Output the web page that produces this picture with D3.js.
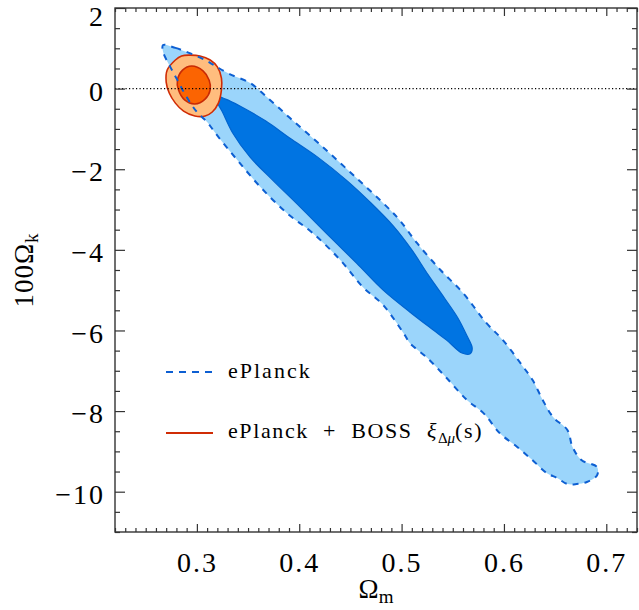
<!DOCTYPE html>
<html>
<head>
<meta charset="utf-8">
<script src="https://cdn.jsdelivr.net/npm/d3@7"></script>
<style>
  body { margin: 0; background: #fff; }
  svg { display: block; }
  text { font-family: "Liberation Serif", "DejaVu Serif", serif; fill: #000; }
</style>
</head>
<body>
<svg id="chart" width="639" height="610"></svg>
<script>
// Axis ranges and ticks
const xDomain = [0.22, 0.73];
const yDomain = [-11, 2];
const xMajorTicks = [0.3, 0.4, 0.5, 0.6, 0.7];
const yMajorTicks = [2, 0, -2, -4, -6, -8, -10];

// Confidence regions, points are [Omega_m, 100 Omega_k]
// ePlanck alone, 95% region
const ePlanckOuter = [
  [0.267, 1.08], [0.279, 1.01], [0.293, 0.88], [0.308, 0.71], [0.318, 0.56],
  [0.332, 0.36], [0.352, 0.14], [0.367, -0.18], [0.391, -0.73], [0.423, -1.45],
  [0.456, -2.22], [0.486, -2.94], [0.498, -3.26], [0.515, -3.83], [0.538, -4.50],
  [0.560, -5.07], [0.583, -5.82], [0.599, -6.24], [0.619, -6.91], [0.628, -7.23],
  [0.638, -7.73], [0.648, -8.15], [0.662, -8.47], [0.667, -8.89], [0.676, -9.22],
  [0.691, -9.39], [0.691, -9.59], [0.681, -9.76], [0.671, -9.81], [0.662, -9.81],
  [0.652, -9.66], [0.642, -9.54], [0.628, -9.22], [0.613, -8.89], [0.596, -8.55],
  [0.580, -8.05], [0.564, -7.73], [0.544, -7.18], [0.525, -6.68], [0.508, -6.31],
  [0.503, -6.11], [0.482, -5.37], [0.462, -4.92], [0.440, -4.25], [0.413, -3.58],
  [0.388, -3.09], [0.362, -2.44], [0.342, -1.85], [0.329, -1.45], [0.318, -1.10],
  [0.310, -0.83], [0.300, -0.58], [0.290, -0.21], [0.281, 0.21], [0.274, 0.54],
  [0.267, 0.91]
];
// ePlanck alone, 68% region
const ePlanckInner = [
  [0.321, -0.21], [0.328, -0.26], [0.342, -0.43], [0.367, -0.80], [0.391, -1.23],
  [0.418, -1.70], [0.446, -2.27], [0.469, -2.81], [0.492, -3.41], [0.510, -4.00],
  [0.526, -4.62], [0.542, -5.20], [0.555, -5.69], [0.564, -6.14], [0.569, -6.44],
  [0.567, -6.58], [0.559, -6.56], [0.544, -6.24], [0.531, -5.99], [0.508, -5.54],
  [0.482, -5.00], [0.456, -4.33], [0.430, -3.68], [0.401, -2.94], [0.374, -2.27],
  [0.352, -1.70], [0.335, -1.10], [0.325, -0.58], [0.320, -0.33]
];
// ePlanck + BOSS, 95% region
const combinedOuter = [
  [0.293, 0.83], [0.303, 0.81], [0.313, 0.71], [0.320, 0.54], [0.324, 0.26],
  [0.324, -0.03], [0.321, -0.36], [0.315, -0.58], [0.308, -0.68], [0.298, -0.68],
  [0.287, -0.56], [0.279, -0.36], [0.273, -0.11], [0.270, 0.16], [0.271, 0.46],
  [0.279, 0.71], [0.285, 0.81]
];
// ePlanck + BOSS, 68% region
const combinedInner = [
  [0.295, 0.56], [0.306, 0.44], [0.312, 0.21], [0.313, -0.03], [0.308, -0.26],
  [0.298, -0.38], [0.288, -0.28], [0.282, -0.03], [0.281, 0.21], [0.286, 0.46]
];

const svg = d3.select("#chart");
const plot = { left: 115, right: 637, top: 8, bottom: 532 };

const x = d3.scaleLinear().domain(xDomain).range([plot.left, plot.right]);
const y = d3.scaleLinear().domain(yDomain).range([plot.bottom, plot.top]);

const region = d3.line()
  .x(d => x(d[0]))
  .y(d => y(d[1]))
  .curve(d3.curveCatmullRomClosed.alpha(0.5));

svg.append("clipPath").attr("id", "plot-clip")
  .append("rect")
  .attr("x", plot.left).attr("y", plot.top)
  .attr("width", plot.right - plot.left).attr("height", plot.bottom - plot.top);

const g = svg.append("g").attr("clip-path", "url(#plot-clip)");

// ePlanck filled regions
g.append("path").attr("d", region(ePlanckOuter))
  .attr("fill", "#9bd5fb").attr("stroke", "none");
g.append("path").attr("d", region(ePlanckInner))
  .attr("fill", "#0074e2").attr("stroke", "#0064cf").attr("stroke-width", 1.2);

// ePlanck + BOSS filled regions
g.append("path").attr("d", region(combinedOuter))
  .attr("fill", "#ffbd7e").attr("stroke", "#d02c05").attr("stroke-width", 1.6);
g.append("path").attr("d", region(combinedInner))
  .attr("fill", "#fb6402").attr("stroke", "#c82a05").attr("stroke-width", 1.6);

// dashed outline of the ePlanck 95% region
g.append("path").attr("d", region(ePlanckOuter))
  .attr("fill", "none").attr("stroke", "#0d5fd2")
  .attr("stroke-width", 2).attr("stroke-dasharray", "6,6");

// flat-universe reference line
g.append("line")
  .attr("x1", plot.left).attr("x2", plot.right)
  .attr("y1", y(0)).attr("y2", y(0))
  .attr("stroke", "#000").attr("stroke-width", 1.2)
  .attr("stroke-dasharray", "1.2,2.3");

// axes
const xMinorTicks = d3.range(22, 74).map(v => v / 100).filter(v => !xMajorTicks.some(t => Math.abs(t - v) < 1e-9));
const yMinorTicks = d3.range(-22, 5).map(v => v / 2).filter(v => !yMajorTicks.includes(v));

function styleAxis(sel) {
  sel.select(".domain").remove();
  sel.selectAll(".tick line").attr("stroke", "#333").attr("stroke-width", 1.2);
}

function styleLabels(sel) {
  sel.selectAll("text")
    .attr("font-size", 28)
    .attr("font-family", "Liberation Serif")
    .attr("letter-spacing", 2);
}

svg.append("g").attr("transform", `translate(0,${plot.bottom})`)
  .call(d3.axisBottom(x).tickValues(xMajorTicks).tickSize(-8).tickPadding(20)
    .tickFormat(d3.format(".1f")))
  .call(styleAxis)
  .call(styleLabels);
svg.append("g").attr("transform", `translate(0,${plot.bottom})`)
  .call(d3.axisBottom(x).tickValues(xMinorTicks).tickSize(-4).tickFormat(""))
  .call(styleAxis);

svg.append("g").attr("transform", `translate(0,${plot.top})`)
  .call(d3.axisTop(x).tickValues(xMajorTicks).tickSize(-8).tickFormat(""))
  .call(styleAxis);
svg.append("g").attr("transform", `translate(0,${plot.top})`)
  .call(d3.axisTop(x).tickValues(xMinorTicks).tickSize(-4).tickFormat(""))
  .call(styleAxis);

svg.append("g").attr("transform", `translate(${plot.left},0)`)
  .call(d3.axisLeft(y).tickValues(yMajorTicks).tickSize(-10).tickPadding(10)
    .tickFormat(d3.format("d")))
  .call(styleAxis)
  .call(styleLabels)
  .call(s => s.selectAll("text")
    .attr("dy", "0.42em")
    .attr("y", d => Math.max(0, 14 - y(d))));
svg.append("g").attr("transform", `translate(${plot.left},0)`)
  .call(d3.axisLeft(y).tickValues(yMinorTicks).tickSize(-5).tickFormat(""))
  .call(styleAxis);

svg.append("g").attr("transform", `translate(${plot.right},0)`)
  .call(d3.axisRight(y).tickValues(yMajorTicks).tickSize(-10).tickFormat(""))
  .call(styleAxis);
svg.append("g").attr("transform", `translate(${plot.right},0)`)
  .call(d3.axisRight(y).tickValues(yMinorTicks).tickSize(-5).tickFormat(""))
  .call(styleAxis);

// frame
svg.append("rect")
  .attr("x", plot.left).attr("y", plot.top)
  .attr("width", plot.right - plot.left).attr("height", plot.bottom - plot.top)
  .attr("fill", "none").attr("stroke", "#333").attr("stroke-width", 1.4);

// axis titles
const xTitle = svg.append("text")
  .attr("x", (plot.left + plot.right) / 2).attr("y", 598)
  .attr("text-anchor", "middle").attr("font-size", 27);
xTitle.append("tspan").text("Ω");
xTitle.append("tspan").attr("font-size", 19).attr("dy", 5).text("m");

const yTitle = svg.append("text")
  .attr("transform", `translate(33,${(plot.top + plot.bottom) / 2}) rotate(-90)`)
  .attr("text-anchor", "middle").attr("font-size", 27).attr("letter-spacing", 1);
yTitle.append("tspan").text("100Ω");
yTitle.append("tspan").attr("font-size", 19).attr("dy", 5).text("k");

// legend
const legend = svg.append("g");
legend.append("line")
  .attr("x1", 166).attr("x2", 213).attr("y1", 372).attr("y2", 372)
  .attr("stroke", "#0d5fd2").attr("stroke-width", 2).attr("stroke-dasharray", "7,6");
legend.append("text").attr("x", 228).attr("y", 378).attr("font-size", 22)
  .attr("letter-spacing", 2).text("ePlanck");

legend.append("line")
  .attr("x1", 166).attr("x2", 213).attr("y1", 433).attr("y2", 433)
  .attr("stroke", "#d02c05").attr("stroke-width", 2);
const l2 = legend.append("text").attr("x", 228).attr("y", 438).attr("font-size", 22)
  .attr("letter-spacing", 1.6).attr("xml:space", "preserve");
l2.append("tspan").text("ePlanck  +  BOSS  ");
l2.append("tspan").attr("font-style", "italic").text("ξ");
l2.append("tspan").attr("font-size", 15).attr("letter-spacing", 0).attr("dy", 5).text("Δ");
l2.append("tspan").attr("font-size", 15).attr("letter-spacing", 0).attr("font-style", "italic").text("μ");
l2.append("tspan").attr("dy", -5).text("(s)");
</script>
</body>
</html>
